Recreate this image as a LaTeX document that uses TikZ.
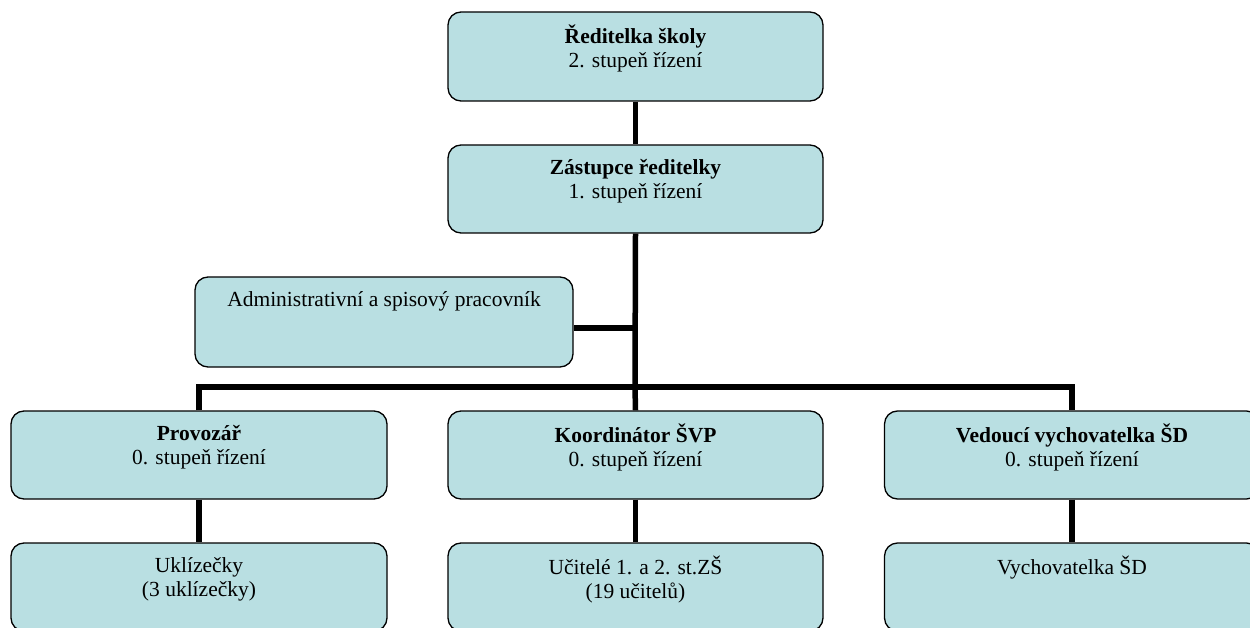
\documentclass[tikz,border=0pt]{standalone}
\usepackage{fontspec}
\setmainfont{Liberation Serif}
\definecolor{boxfill}{RGB}{185,223,226}
\newcommand{\bxt}[3]{\parbox[c][#2][t]{#1}{\centering\vspace*{13pt}\strut#3\par}}
\tikzset{
  orgbox/.style={draw=black, line width=1.3pt, fill=boxfill, rounded corners=13pt,
    inner sep=0pt, font=\fontsize{21.5}{24}\selectfont},
  link/.style={line width=5.5pt}
}
\begin{document}
\begin{tikzpicture}[x=1pt,y=1pt]
\useasboundingbox (0,0) rectangle (1250,-628);
\coordinate (aj) at (635,-328);
\coordinate (bus) at (635,-387);
\node[orgbox] (top) at (635.5,-56.5) {\bxt{375pt}{89pt}{\textbf{Ředitelka školy}\\2. stupeň řízení}};
\node[orgbox] (zast) at (635.5,-189) {\bxt{375pt}{88pt}{\textbf{Zástupce ředitelky}\\1. stupeň řízení}};
\node[orgbox] (admin) at (384,-322) {\bxt{378pt}{90pt}{Administrativní a spisový pracovník}};
\node[orgbox] (prov) at (199,-455) {\bxt{376pt}{88pt}{\textbf{Provozář}\\0. stupeň řízení}};
\node[orgbox] (koord) at (635.5,-455) {\bxt{375pt}{88pt}{\textbf{Koordinátor ŠVP}\\0. stupeň řízení}};
\node[orgbox] (ved) at (1072,-455) {\bxt{375pt}{88pt}{\textbf{Vedoucí vychovatelka ŠD}\\0. stupeň řízení}};
\node[orgbox] (ukl) at (199,-587) {\bxt{376pt}{88pt}{Uklízečky\\(3 uklízečky)}};
\node[orgbox] (uc) at (635.5,-587) {\bxt{375pt}{88pt}{Učitelé 1. a 2. st.ZŠ\\(19 učitelů)}};
\node[orgbox] (vych) at (1072,-587) {\bxt{375pt}{88pt}{Vychovatelka ŠD}};
\draw[link] (top.south) -- (zast.north);
\draw[link] (zast.south) -- (bus);
\draw[link] (aj) -- (aj -| admin.east);
\draw[link] (prov.north) -- (prov.north |- bus) -- (ved.north |- bus) -- (ved.north);
\draw[link] (bus) -- (koord.north);
\draw[link] (prov.south) -- (ukl.north);
\draw[link] (koord.south) -- (uc.north);
\draw[link] (ved.south) -- (vych.north);
\end{tikzpicture}
\end{document}
